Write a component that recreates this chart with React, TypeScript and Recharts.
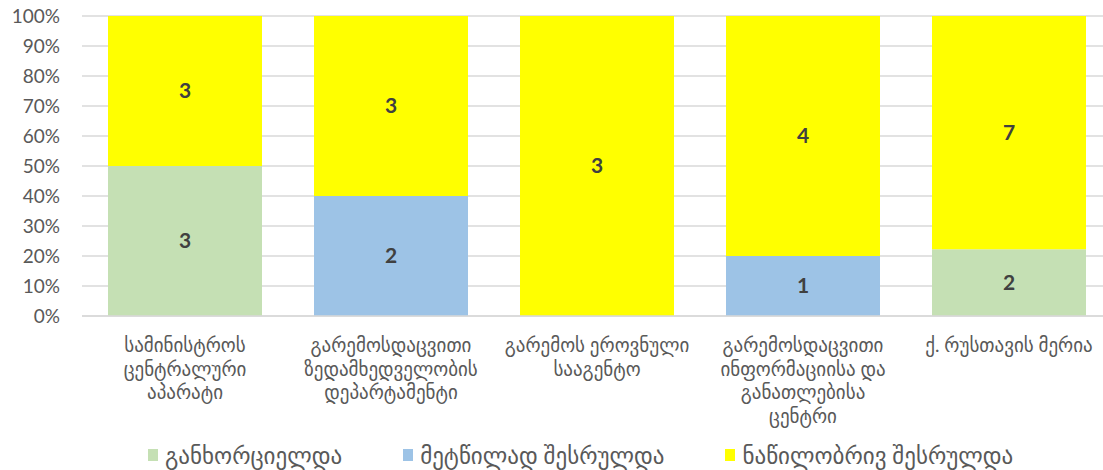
import { BarChart, Bar, XAxis, YAxis, CartesianGrid, Legend, LabelList } from 'recharts'

// category names, split into the lines they are drawn on
const categoryLines: string[][] = [
  ['სამინისტროს', 'ცენტრალური', 'აპარატი'],
  ['გარემოსდაცვითი', 'ზედამხედველობის', 'დეპარტამენტი'],
  ['გარემოს ეროვნული', 'სააგენტო'],
  ['გარემოსდაცვითი', 'ინფორმაციისა და', 'განათლებისა', 'ცენტრი'],
  ['ქ. რუსთავის მერია'],
]
const categories = categoryLines.map((l) => l.join(' '))

const implemented = [3, 0, 0, 0, 2]
const mostlyDone = [0, 2, 0, 1, 0]
const partlyDone = [3, 3, 3, 4, 7]

const yTicks = [0, 0.1, 0.2, 0.3, 0.4, 0.5, 0.6, 0.7, 0.8, 0.9, 1]

const series = [
  { key: 'implemented', name: 'განხორციელდა', color: '#C5E0B4' },
  { key: 'mostlyDone', name: 'მეტწილად შესრულდა', color: '#9DC3E6' },
  { key: 'partlyDone', name: 'ნაწილობრივ შესრულდა', color: '#FFFF00' },
]

const chartData = categories.map((name, i) => ({
  name,
  implemented: implemented[i],
  mostlyDone: mostlyDone[i],
  partlyDone: partlyDone[i],
}))

const FONT = "Lato, 'DejaVu Sans', sans-serif"

function CategoryTick(props: any) {
  const { x, y, index } = props
  const lines = categoryLines[index] ?? []
  return (
    <text x={x} y={y} textAnchor="middle" fill="#595959" fontSize={19} fontFamily={FONT}>
      {lines.map((line, i) => (
        <tspan key={i} x={x} dy={i === 0 ? 28 : 23.5}>
          {line}
        </tspan>
      ))}
    </text>
  )
}

function LegendContent(props: any) {
  const payload = props.payload ?? []
  return (
    <div
      style={{
        display: 'flex',
        height: 30,
        alignItems: 'center',
        paddingLeft: 148,
        gap: 61,
        fontFamily: FONT,
        fontSize: 23,
        color: '#595959',
      }}
    >
      {payload.map((p: any) => (
        <div key={p.value} style={{ display: 'flex', alignItems: 'center' }}>
          <span style={{ width: 10, height: 12, background: p.color, marginRight: 7, display: 'inline-block' }} />
          <span>{p.value}</span>
        </div>
      ))}
    </div>
  )
}

export default function App() {
  return (
    <div style={{ position: 'absolute', left: 0, top: 0, width: 1103, height: 470, overflow: 'hidden', background: '#fff' }}>
      <BarChart
        width={1112}
        height={470}
        data={chartData}
        stackOffset="expand"
        barSize={154}
        margin={{ top: 16, right: 0, bottom: 0, left: 0 }}
      >
        <CartesianGrid vertical={false} stroke="#D9D9D9" strokeWidth={1.5} />
        <XAxis
          dataKey="name"
          interval={0}
          height={124}
          axisLine={{ stroke: '#D9D9D9', strokeWidth: 1.5 }}
          tickLine={false}
          tick={<CategoryTick />}
        />
        <YAxis
          width={82}
          domain={[0, 1]}
          ticks={yTicks}
          axisLine={false}
          tickLine={false}
          tickMargin={16}
          tickFormatter={(v: number) => `${Math.round(v * 100)}%`}
          tick={{ fontSize: 19, fill: '#595959', fontFamily: FONT }}
        />
        <Legend verticalAlign="bottom" content={<LegendContent />} />
        {series.map((s) => (
          <Bar key={s.key} dataKey={s.key} name={s.name} stackId="a" fill={s.color} isAnimationActive={false}>
            <LabelList
              dataKey={s.key}
              position="center"
              formatter={(v: any) => (v ? v : '')}
              style={{ fontSize: 21, fontWeight: 'bold', fill: '#404040', fontFamily: FONT }}
            />
          </Bar>
        ))}
      </BarChart>
    </div>
  )
}
